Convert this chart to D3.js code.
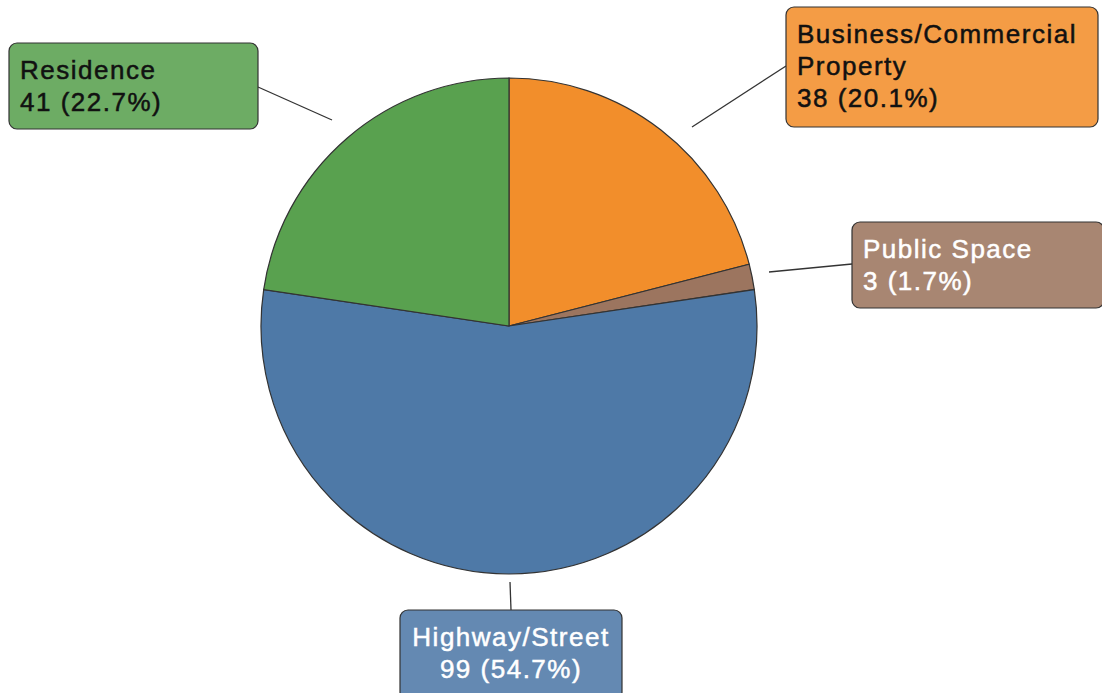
<!DOCTYPE html>
<html>
<head>
<meta charset="utf-8">
<script src="https://cdn.jsdelivr.net/npm/d3@7"></script>
<style>
  body { margin: 0; background: #fff; }
  svg { display: block; font-family: "Liberation Sans", Arial, sans-serif; }
</style>
</head>
<body>
<div id="chart"></div>
<script>
// data
const categories = ["Business/Commercial Property", "Public Space", "Highway/Street", "Residence"]
const counts = [38, 3, 99, 41]
const pctLabels = ["20.1%", "1.7%", "54.7%", "22.7%"]
const colors = ["#f28e2b", "#9c755f", "#4e79a7", "#59a14f"]
const textColors = ["#111", "#fff", "#fff", "#111"]

const width = 1102, height = 693
const cx = 509, cy = 326, radius = 248

// label boxes, hand placed like the original
const boxes = [
  { x: 786, y: 7, w: 312, h: 120, lines: ["Business/Commercial", "Property"], anchor: "start", lineFrom: [692, 127], lineTo: [786, 66] },
  { x: 852, y: 222, w: 252, h: 86, lines: ["Public Space"], anchor: "start", lineFrom: [769, 272], lineTo: [852, 264] },
  { x: 400, y: 610, w: 222, h: 90, lines: ["Highway/Street"], anchor: "middle", lineFrom: [510, 582], lineTo: [511, 610] },
  { x: 9, y: 43, w: 249, h: 86, lines: ["Residence"], anchor: "start", lineFrom: [332, 120], lineTo: [258, 87] }
]

const svg = d3.select("#chart").append("svg")
  .attr("width", width)
  .attr("height", height)

const pie = d3.pie().sort(null).value(d => d)
const arc = d3.arc().innerRadius(0).outerRadius(radius)

const g = svg.append("g").attr("transform", `translate(${cx},${cy})`)
g.selectAll("path")
  .data(pie(counts))
  .enter()
  .append("path")
  .attr("d", arc)
  .style("fill", (d, i) => colors[i])
  .style("stroke", "#333")
  .style("stroke-width", 1.2)

// leader lines
svg.selectAll("line.leader")
  .data(boxes)
  .enter()
  .append("line")
  .attr("class", "leader")
  .attr("x1", d => d.lineFrom[0]).attr("y1", d => d.lineFrom[1])
  .attr("x2", d => d.lineTo[0]).attr("y2", d => d.lineTo[1])
  .style("stroke", "#333")
  .style("stroke-width", 1.3)

const lab = svg.selectAll("g.lab")
  .data(boxes)
  .enter()
  .append("g")
  .attr("class", "lab")

lab.append("rect")
  .attr("x", d => d.x).attr("y", d => d.y)
  .attr("width", d => d.w).attr("height", d => d.h)
  .attr("rx", 8)
  .style("fill", (d, i) => colors[i])
  .style("fill-opacity", 0.88)
  .style("stroke", "#333")
  .style("stroke-width", 1.2)

const lineH = 32
lab.each(function (d, i) {
  const t = d3.select(this).append("text")
    .attr("text-anchor", d.anchor)
    .style("font-size", "26px")
    .style("letter-spacing", "1.5px")
    .style("fill", textColors[i])
    .style("stroke", textColors[i])
    .style("stroke-width", 0.5)
  const tx = d.anchor === "middle" ? d.x + d.w / 2 : d.x + 11
  const all = d.lines.concat([counts[i] + " (" + pctLabels[i] + ")"])
  all.forEach((s, k) => {
    t.append("tspan")
      .attr("x", tx)
      .attr("y", d.y + 36 + k * lineH)
      .text(s)
  })
})
</script>
</body>
</html>
